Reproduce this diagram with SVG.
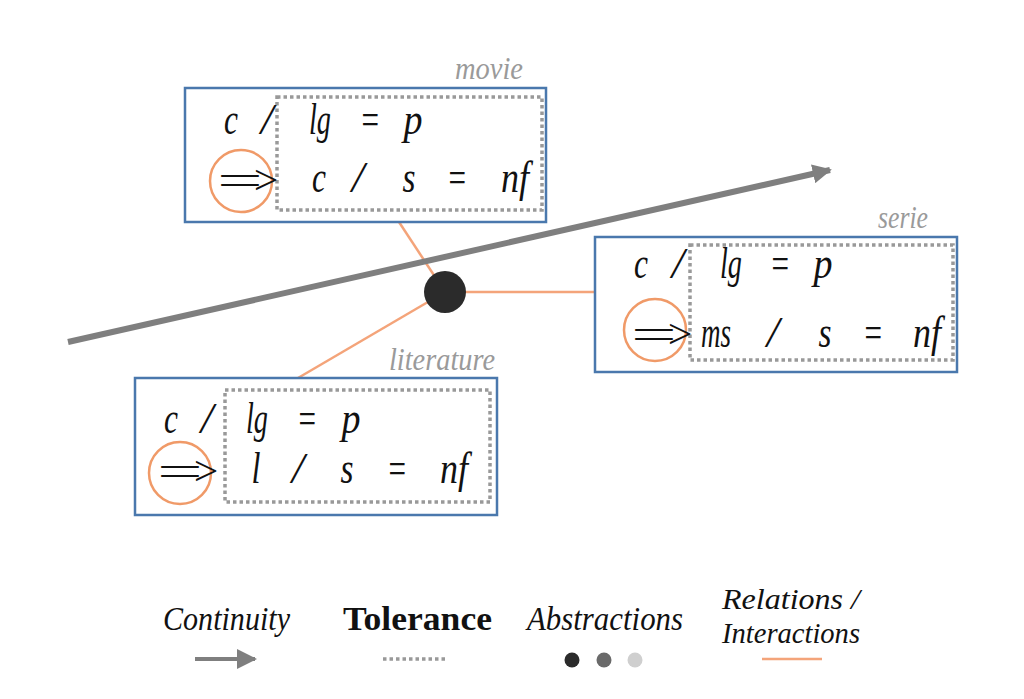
<svg xmlns="http://www.w3.org/2000/svg" width="1024" height="699" viewBox="0 0 1024 699">
<defs>
<style>
.box{fill:none;stroke:#4a78ad;stroke-width:2.5}
.dot{fill:none;stroke:#999;stroke-width:3.5;stroke-dasharray:3.5 3}
.ring{fill:none;stroke:#f09a68;stroke-width:2.5}
.rel{stroke:#f4a47a;stroke-width:2.5;fill:none}
.m{font-family:"Liberation Serif",serif;font-style:italic;font-size:45px;fill:#111;text-anchor:middle}
.arr{font-family:"Liberation Serif",serif;font-size:42px;fill:#111;text-anchor:middle;letter-spacing:-7px}
.lab{font-family:"Liberation Serif",serif;font-style:italic;font-size:31px;fill:#9a9a9a;text-anchor:end}
.leg{font-family:"Liberation Serif",serif;font-style:italic;font-size:33px;fill:#111}
.leg2{font-family:"Liberation Serif",serif;font-style:italic;font-size:30px;fill:#111}
.legb{font-family:"Liberation Serif",serif;font-weight:bold;font-size:34px;fill:#111}
</style>
<marker id="ah" viewBox="0 0 10 10" refX="9" refY="5" markerWidth="3.2" markerHeight="3.2" orient="auto" markerUnits="strokeWidth">
<path d="M0,0 L10,5 L0,10 z" fill="#7f7f7f"/>
</marker>
<marker id="ah2" viewBox="0 0 10 10" refX="9" refY="5" markerWidth="5" markerHeight="5" orient="auto" markerUnits="strokeWidth">
<path d="M0,0 L10,5 L0,10 z" fill="#7f7f7f"/>
</marker>
</defs>
<rect width="1024" height="699" fill="#fff"/>

<g id="connectors">
<line class="rel" x1="445" y1="292" x2="399" y2="222"/>
<line class="rel" x1="445" y1="292" x2="595" y2="292"/>
<line class="rel" x1="445" y1="292" x2="298" y2="378"/>
<line x1="68" y1="342" x2="830" y2="170" stroke="#7f7f7f" stroke-width="6" marker-end="url(#ah)"/>
</g>

<g id="center-node">
<circle cx="445" cy="292" r="21" fill="#2b2b2b"/>
</g>

<g id="movie">
<rect class="box" x="185" y="88" width="361" height="134"/>
<rect class="dot" x="277" y="97" width="265" height="113"/>
<circle class="ring" cx="241" cy="181" r="31"/>
<text class="lab" x="523" y="79" textLength="68" lengthAdjust="spacingAndGlyphs">movie</text>
<text class="m" x="231" y="134" textLength="14" lengthAdjust="spacingAndGlyphs">c</text>
<text class="m" x="267" y="134">/</text>
<text class="m" x="320" y="134" textLength="22" lengthAdjust="spacingAndGlyphs">lg</text>
<text class="m" x="370" y="134" textLength="21" lengthAdjust="spacingAndGlyphs">=</text>
<text class="m" x="413" y="134" textLength="19" lengthAdjust="spacingAndGlyphs">p</text>
<text class="arr" x="245" y="194" textLength="52" lengthAdjust="spacingAndGlyphs">==&gt;</text>
<text class="m" x="319" y="192" textLength="14" lengthAdjust="spacingAndGlyphs">c</text>
<text class="m" x="358" y="192">/</text>
<text class="m" x="409" y="192" textLength="13" lengthAdjust="spacingAndGlyphs">s</text>
<text class="m" x="457" y="192" textLength="21" lengthAdjust="spacingAndGlyphs">=</text>
<text class="m" x="515" y="192" textLength="28" lengthAdjust="spacingAndGlyphs">nf</text>
</g>

<g id="serie">
<rect class="box" x="595" y="237" width="362" height="135"/>
<rect class="dot" x="690" y="245" width="263" height="115"/>
<circle class="ring" cx="655" cy="330" r="31"/>
<text class="lab" x="928" y="228" textLength="50" lengthAdjust="spacingAndGlyphs">serie</text>
<text class="m" x="641" y="278" textLength="14" lengthAdjust="spacingAndGlyphs">c</text>
<text class="m" x="678" y="278">/</text>
<text class="m" x="731" y="278" textLength="22" lengthAdjust="spacingAndGlyphs">lg</text>
<text class="m" x="780" y="278" textLength="21" lengthAdjust="spacingAndGlyphs">=</text>
<text class="m" x="823" y="278" textLength="19" lengthAdjust="spacingAndGlyphs">p</text>
<text class="arr" x="659" y="348" textLength="52" lengthAdjust="spacingAndGlyphs">==&gt;</text>
<text class="m" x="716" y="347" textLength="30" lengthAdjust="spacingAndGlyphs">ms</text>
<text class="m" x="773" y="347">/</text>
<text class="m" x="825" y="347" textLength="13" lengthAdjust="spacingAndGlyphs">s</text>
<text class="m" x="873" y="347" textLength="21" lengthAdjust="spacingAndGlyphs">=</text>
<text class="m" x="927" y="347" textLength="28" lengthAdjust="spacingAndGlyphs">nf</text>
</g>

<g id="literature">
<rect class="box" x="135" y="378" width="362" height="137"/>
<rect class="dot" x="225" y="390" width="265" height="112"/>
<circle class="ring" cx="180" cy="473" r="31"/>
<text class="lab" x="495" y="370" textLength="106" lengthAdjust="spacingAndGlyphs">literature</text>
<text class="m" x="171" y="433" textLength="14" lengthAdjust="spacingAndGlyphs">c</text>
<text class="m" x="207" y="433">/</text>
<text class="m" x="257" y="433" textLength="22" lengthAdjust="spacingAndGlyphs">lg</text>
<text class="m" x="307" y="433" textLength="21" lengthAdjust="spacingAndGlyphs">=</text>
<text class="m" x="351" y="433" textLength="19" lengthAdjust="spacingAndGlyphs">p</text>
<text class="arr" x="185" y="485" textLength="52" lengthAdjust="spacingAndGlyphs">==&gt;</text>
<text class="m" x="256" y="483" textLength="9" lengthAdjust="spacingAndGlyphs">l</text>
<text class="m" x="298" y="483">/</text>
<text class="m" x="347" y="483" textLength="13" lengthAdjust="spacingAndGlyphs">s</text>
<text class="m" x="397" y="483" textLength="21" lengthAdjust="spacingAndGlyphs">=</text>
<text class="m" x="454" y="483" textLength="28" lengthAdjust="spacingAndGlyphs">nf</text>
</g>

<g id="legend">
<text class="leg" x="163" y="630" textLength="127" lengthAdjust="spacingAndGlyphs">Continuity</text>
<line x1="195" y1="659" x2="255" y2="659" stroke="#7f7f7f" stroke-width="4" marker-end="url(#ah2)"/>
<text class="legb" x="343" y="630" textLength="149" lengthAdjust="spacingAndGlyphs">Tolerance</text>
<line x1="383" y1="659" x2="447" y2="659" stroke="#999" stroke-width="3.5" stroke-dasharray="3.5 3"/>
<text class="leg" x="527" y="630" textLength="156" lengthAdjust="spacingAndGlyphs">Abstractions</text>
<circle cx="572" cy="660" r="7.5" fill="#2b2b2b"/>
<circle cx="604" cy="660" r="7.5" fill="#6a6a6a"/>
<circle cx="635" cy="660" r="7.5" fill="#cfcfcf"/>
<text class="leg2" x="722" y="609" textLength="138" lengthAdjust="spacingAndGlyphs">Relations /</text>
<text class="leg2" x="722" y="643" textLength="138" lengthAdjust="spacingAndGlyphs">Interactions</text>
<line x1="762" y1="659" x2="822" y2="659" stroke="#f4a47a" stroke-width="2.5"/>
</g>
</svg>
